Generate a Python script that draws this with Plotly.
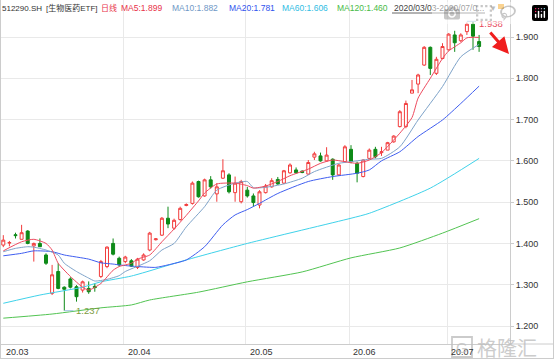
import plotly.graph_objects as go

# ---------------- data ----------------
opens = [1.396, 1.401, 1.421, 1.410, 1.430, 1.394, 1.400, 1.372, 1.279, 1.332,
         1.294, 1.314, 1.295, 1.287, 1.291, 1.296, 1.320, 1.344, 1.400, 1.364,
         1.356, 1.358, 1.342, 1.360, 1.384, 1.409, 1.420, 1.461, 1.437, 1.458,
         1.492, 1.497, 1.550, 1.515, 1.554, 1.520, 1.558, 1.566, 1.523, 1.501,
         1.529, 1.515, 1.493, 1.523, 1.537, 1.555, 1.546, 1.571, 1.578, 1.575,
         1.568, 1.609, 1.612, 1.600, 1.604, 1.566, 1.598, 1.628, 1.594, 1.562,
         1.606, 1.628, 1.620, 1.626, 1.646, 1.683, 1.683, 1.764, 1.786, 1.832,
         1.875, 1.812, 1.848, 1.869, 1.905, 1.891, 1.913, 1.931, 1.889]
highs = [1.420, 1.406, 1.426, 1.445, 1.432, 1.402, 1.412, 1.376, 1.348, 1.352,
         1.296, 1.318, 1.299, 1.310, 1.308, 1.303, 1.360, 1.393, 1.412, 1.368,
         1.370, 1.362, 1.365, 1.376, 1.428, 1.413, 1.464, 1.489, 1.460, 1.489,
         1.497, 1.550, 1.552, 1.557, 1.563, 1.546, 1.604, 1.570, 1.562, 1.554,
         1.537, 1.521, 1.529, 1.544, 1.558, 1.561, 1.578, 1.594, 1.584, 1.577,
         1.602, 1.622, 1.620, 1.633, 1.606, 1.592, 1.638, 1.638, 1.598, 1.604,
         1.630, 1.634, 1.634, 1.646, 1.662, 1.723, 1.746, 1.796, 1.811, 1.878,
         1.877, 1.852, 1.885, 1.909, 1.915, 1.909, 1.935, 1.938, 1.905]
lows = [1.391, 1.393, 1.412, 1.410, 1.398, 1.356, 1.392, 1.348, 1.275, 1.289,
        1.237, 1.291, 1.259, 1.281, 1.278, 1.283, 1.316, 1.340, 1.371, 1.344,
        1.352, 1.343, 1.338, 1.358, 1.381, 1.407, 1.418, 1.437, 1.433, 1.455,
        1.490, 1.494, 1.511, 1.513, 1.533, 1.501, 1.556, 1.521, 1.501, 1.497,
        1.511, 1.489, 1.485, 1.521, 1.535, 1.542, 1.544, 1.569, 1.569, 1.570,
        1.566, 1.602, 1.598, 1.598, 1.554, 1.564, 1.596, 1.594, 1.548, 1.560,
        1.604, 1.606, 1.612, 1.626, 1.644, 1.681, 1.679, 1.764, 1.764, 1.830,
        1.808, 1.808, 1.846, 1.867, 1.864, 1.888, 1.905, 1.869, 1.864]
closes = [1.408, 1.402, 1.419, 1.426, 1.400, 1.400, 1.392, 1.352, 1.324, 1.291,
          1.289, 1.294, 1.271, 1.307, 1.283, 1.293, 1.356, 1.391, 1.374, 1.348,
          1.367, 1.345, 1.362, 1.372, 1.425, 1.411, 1.461, 1.447, 1.456, 1.485,
          1.494, 1.546, 1.513, 1.554, 1.537, 1.537, 1.576, 1.525, 1.546, 1.550,
          1.515, 1.499, 1.525, 1.539, 1.552, 1.544, 1.576, 1.590, 1.571, 1.572,
          1.596, 1.617, 1.600, 1.614, 1.566, 1.590, 1.634, 1.598, 1.570, 1.602,
          1.626, 1.610, 1.622, 1.644, 1.660, 1.719, 1.739, 1.772, 1.808, 1.875,
          1.824, 1.846, 1.877, 1.907, 1.886, 1.905, 1.931, 1.902, 1.877]

month_labels = ["20.03", "20.04", "20.05", "20.06", "20.07"]
month_start_idx = [0, 20, 40, 57, 73]

ma5_idx = [0, 3, 5, 7, 8, 9, 11, 13, 14, 16, 18, 19, 21, 22, 24, 26, 28, 30, 32, 33,
           35, 38, 40, 41, 43, 45, 47, 50, 52, 54, 56, 58, 60, 62, 65, 67, 68, 70,
           72, 73, 75, 76, 78]
ma5_val = [1.382, 1.404, 1.410, 1.400, 1.384, 1.352, 1.320, 1.294, 1.287, 1.303,
           1.335, 1.344, 1.352, 1.362, 1.372, 1.404, 1.435, 1.468, 1.503, 1.522,
           1.544, 1.546, 1.540, 1.534, 1.539, 1.550, 1.564, 1.580, 1.594, 1.602,
           1.598, 1.594, 1.602, 1.620, 1.667, 1.705, 1.752, 1.800, 1.848, 1.866,
           1.886, 1.898, 1.899]
ma10_idx = [0, 2, 4, 5, 7, 9, 10, 12, 14, 15, 17, 19, 20, 24, 26, 28, 30, 33, 35,
            38, 40, 41, 43, 46, 49, 51, 55, 57, 60, 62, 65, 68, 72, 75, 78]
ma10_val = [1.380, 1.388, 1.392, 1.391, 1.384, 1.372, 1.352, 1.332, 1.316, 1.309,
            1.313, 1.322, 1.332, 1.358, 1.384, 1.400, 1.440, 1.489, 1.529, 1.546,
            1.550, 1.535, 1.536, 1.544, 1.558, 1.574, 1.594, 1.598, 1.604, 1.606,
            1.634, 1.699, 1.780, 1.852, 1.882]
ma20_idx = [0, 3, 5, 8, 10, 14, 16, 18, 19, 21, 22, 25, 27, 30, 33, 36, 38, 40,
            42, 45, 50, 54, 58, 60, 62, 65, 68, 72, 75, 78]
ma20_val = [1.370, 1.376, 1.382, 1.380, 1.372, 1.362, 1.353, 1.350, 1.348, 1.345,
            1.344, 1.342, 1.348, 1.360, 1.392, 1.445, 1.469, 1.482, 1.497, 1.521,
            1.550, 1.562, 1.570, 1.578, 1.600, 1.622, 1.659, 1.699, 1.739, 1.781]
ma60_idx = [0, 6, 13, 16, 21, 30, 40, 57, 60, 70, 78]
ma60_val = [1.255, 1.275, 1.294, 1.307, 1.321, 1.360, 1.400, 1.461, 1.473, 1.534, 1.606]
ma120_idx = [0, 8, 16, 21, 24, 32, 40, 49, 57, 65, 72, 78]
ma120_val = [1.219, 1.229, 1.244, 1.251, 1.263, 1.282, 1.307, 1.331, 1.365, 1.389,
             1.425, 1.460]

price_ticks = [1.2, 1.3, 1.4, 1.5, 1.6, 1.7, 1.8, 1.9]
title_code = "512290.SH"
title_name = "[生物医药ETF]"
period_text = "日线"
range_text = "2020/03/03-2020/07/0..."
watermark_text = "格隆汇"

# ---------------- layout helpers ----------------
W, H = 554, 360
L, R, T, B = 1, 510, 0, 344
X0_PX, STEP_PX = 3.3, 6.1          # candle 0 pixel centre and spacing
x_range = [(L - X0_PX) / STEP_PX, (R - X0_PX) / STEP_PX]
y_per_px = 0.7 / 289.0
y_range = [1.9 - (B - 37) * y_per_px, 1.9 + (37 - T) * y_per_px]


def fx(px):
    return (px - L) / (R - L)


def fy(py):
    return (B - py) / (B - T)


idx = list(range(len(closes)))

RED = "#f23c3c"
GREEN = "#0e8a18"
C_MA5 = "#ee4a5e"
C_MA10 = "#7ea3c9"
C_MA20 = "#3f5ef0"
C_MA60 = "#3fd2ea"
C_MA120 = "#52c452"
FONT = "Liberation Sans, Arial, Noto Sans CJK SC, sans-serif"
WM = "rgba(190,190,190,0.8)"

fig = go.Figure()
for ix, vals, col in [(ma120_idx, ma120_val, C_MA120), (ma60_idx, ma60_val, C_MA60),
                      (ma20_idx, ma20_val, C_MA20), (ma10_idx, ma10_val, C_MA10),
                      (ma5_idx, ma5_val, C_MA5)]:
    fig.add_trace(go.Scatter(x=ix, y=vals, mode="lines",
                             line=dict(color=col, width=1, shape="spline", smoothing=0.6),
                             hoverinfo="skip", showlegend=False))

fig.add_trace(go.Candlestick(
    x=idx, open=opens, high=highs, low=lows, close=closes,
    increasing=dict(line=dict(color=RED, width=1), fillcolor="white"),
    decreasing=dict(line=dict(color=GREEN, width=1), fillcolor=GREEN),
    whiskerwidth=0, showlegend=False))

annotations = []
# header
hdr = [
    (0, f"{title_code}", "#333333", 8),
    (44, title_name, "#333333", 8),
    (99, period_text, "#e8344a", 8),
    (119, f"MA5:{ma5_val[-1]:.3f}", "#e8344a", 8.5),
    (170, f"MA10:{ma10_val[-1]:.3f}", "#6f98c6", 8.5),
    (227, f"MA20:{ma20_val[-1]:.3f}", "#2f52ee", 8.5),
    (280, f"MA60:{ma60_val[-1]:.3f}", "#30bde3", 8.5),
    (335, f"MA120:{ma120_val[-1]:.3f}", "#47bb47", 8.5),
    (392, range_text, "#444444", 8.5),
    (487, "▼", "#777777", 8),
]
for px, txt, col, fs in hdr:
    annotations.append(dict(x=fx(px), y=fy(8), xref="paper", yref="paper", text=txt,
                            showarrow=False, xanchor="left", yanchor="middle",
                            font=dict(family=FONT, size=fs, color=col)))

# month labels
for s, lab in zip(month_start_idx, month_labels):
    annotations.append(dict(x=s - 0.25, y=fy(352), xref="x", yref="paper", text=lab,
                            showarrow=False, xanchor="left", yanchor="middle", xshift=2,
                            font=dict(family=FONT, size=9, color="#333333")))

# extreme labels
hi_i = max(idx, key=lambda i: highs[i])
lo_i = min(idx, key=lambda i: lows[i])
annotations.append(dict(x=hi_i, y=highs[hi_i], xref="x", yref="y",
                        text=f"{highs[hi_i]:.3f}", showarrow=False, xanchor="left",
                        yanchor="middle", xshift=4, yshift=-2,
                        font=dict(family=FONT, size=9.5, color="#e8485a")))
annotations.append(dict(x=lo_i, y=lows[lo_i], xref="x", yref="y",
                        text=f"{lows[lo_i]:.3f}", showarrow=False, xanchor="left",
                        yanchor="middle", xshift=10,
                        font=dict(family=FONT, size=9.5, color="#7d9c3e")))

# red arrow
annotations.append(dict(x=fx(509), y=fy(54), xref="paper", yref="paper", text="",
                        showarrow=True, arrowhead=2, arrowsize=1.1, arrowwidth=3,
                        arrowcolor="#f01e1e", ax=-20, ay=-23))

# watermark
annotations.append(dict(x=fx(475), y=fy(347), xref="paper", yref="paper", text=watermark_text,
                        showarrow=False, xanchor="left", yanchor="middle",
                        font=dict(family="Noto Sans CJK SC", size=20, color=WM)))
annotations.append(dict(x=fx(462), y=fy(347), xref="paper", yref="paper", text="G",
                        showarrow=False, xanchor="center", yanchor="middle",
                        font=dict(family=FONT, size=15, color=WM)))

shapes = [
    # underline of date range
    dict(type="line", xref="paper", yref="paper", x0=fx(392), x1=fx(485),
         y0=fy(13), y1=fy(13), line=dict(color="#666666", width=1)),
    # lock icon
    dict(type="rect", xref="paper", yref="paper", x0=fx(498), x1=fx(504),
         y0=fy(9), y1=fy(4), fillcolor="#f5a623", line=dict(width=0)),
    # borders
    dict(type="line", xref="paper", yref="paper", x0=fx(0.5), x1=fx(0.5),
         y0=fy(0), y1=fy(359), line=dict(color="#cccccc", width=1)),
    dict(type="line", xref="paper", yref="paper", x0=fx(0), x1=fx(554),
         y0=fy(358.5), y1=fy(358.5), line=dict(color="#cccccc", width=1)),
    dict(type="line", xref="paper", yref="paper", x0=fx(510), x1=fx(554),
         y0=fy(344), y1=fy(344), line=dict(color="#cccccc", width=1)),
    dict(type="line", xref="paper", yref="paper", x0=fx(553.5), x1=fx(553.5),
         y0=fy(0), y1=fy(359), line=dict(color="#cccccc", width=1)),
    # watermark logo box
    dict(type="rect", xref="paper", yref="paper", x0=fx(452), x1=fx(472),
         y0=fy(357), y1=fy(337), line=dict(color=WM, width=1.8)),
    # connectors for extreme labels
    dict(type="line", xref="x", yref="y", x0=lo_i, x1=lo_i + 1.5, y0=lows[lo_i], y1=lows[lo_i],
         line=dict(color="#9cc0e0", width=1)),
    dict(type="line", xref="x", yref="y", x0=hi_i - 1, x1=hi_i + 0.5, y0=highs[hi_i], y1=highs[hi_i],
         line=dict(color="#9cc0e0", width=1)),
]

fig.update_layout(
    width=W, height=H,
    margin=dict(l=L, r=W - R, t=T, b=H - B, pad=0),
    paper_bgcolor="white", plot_bgcolor="white",
    showlegend=False,
    annotations=annotations, shapes=shapes,
    xaxis=dict(range=x_range, rangeslider=dict(visible=False),
               tickvals=[s - 0.25 for s in month_start_idx[1:]],
               showticklabels=False, ticks="", showgrid=True, gridcolor="#e9e9e9",
               gridwidth=1, showline=True, linecolor="#cccccc", zeroline=False,
               fixedrange=True),
    yaxis=dict(range=y_range, side="right", tickvals=price_ticks,
               ticktext=[f"{v:.3f}" for v in price_ticks],
               showgrid=True, gridcolor="#e9e9e9", showline=True, linecolor="#cccccc",
               ticks="outside", ticklen=3, tickcolor="#cccccc", zeroline=False,
               tickfont=dict(family=FONT, size=9, color="#333333"), fixedrange=True),
)

fig.write_html("out.html",
               post_script="document.body.style.margin='0';document.body.style.overflow='hidden';")
